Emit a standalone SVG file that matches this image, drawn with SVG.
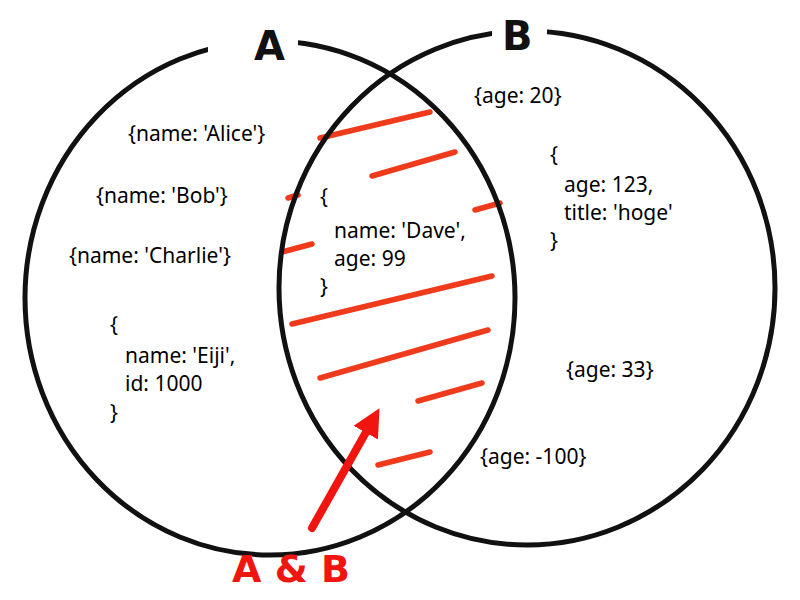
<svg xmlns="http://www.w3.org/2000/svg" width="800" height="600" viewBox="0 0 800 600">
<style>
.c{fill:none;stroke:#111;stroke-width:5}
.t{font-family:"Noto Sans",sans-serif;font-size:21px;fill:#000}
.h{stroke:#f03a1c;stroke-width:5.5;stroke-linecap:round;fill:none}
.lbl{font-family:"DejaVu Sans",sans-serif;font-weight:bold;font-size:40px;fill:#111}
</style>
<defs><marker id="ah" viewBox="0 0 10 10" refX="6" refY="5" markerWidth="3.5" markerHeight="3.5" orient="auto"><path d="M0,0L10,5L0,10z" fill="#f0160f"/></marker></defs>
<rect width="800" height="600" fill="#fff"/>
<g id="hatch">
<path class="h" d="M320,138L430,112M372,176L455,152M288,198L298,195M475,210L500,203M282,252L312,244M292,324L492,276M320,378L488,330M418,401L482,383M378,465L430,452"/>
</g>
<g id="circleA"><ellipse class="c" cx="270" cy="298" rx="245" ry="257"/></g>
<g id="circleB"><ellipse class="c" cx="527" cy="288" rx="248" ry="257"/></g>
<rect x="208" y="20" width="90" height="40" fill="#fff"/>
<rect x="492" y="10" width="55" height="40" fill="#fff"/>
<text class="lbl" x="254" y="60">A</text>
<text class="lbl" x="502" y="50">B</text>
<g id="textsA">
<text class="t" x="128" y="141">{name: 'Alice'}</text>
<text class="t" x="96" y="203">{name: 'Bob'}</text>
<text class="t" x="69" y="263">{name: 'Charlie'}</text>
<text class="t" x="110" y="332">{</text>
<text class="t" x="125" y="363">name: 'Eiji',</text>
<text class="t" x="125" y="391">id: 1000</text>
<text class="t" x="110" y="420">}</text>
</g>
<g id="textsAB">
<text class="t" x="320" y="204">{</text>
<text class="t" x="334" y="238">name: 'Dave',</text>
<text class="t" x="334" y="266">age: 99</text>
<text class="t" x="320" y="294">}</text>
</g>
<g id="textsB">
<text class="t" x="474" y="103">{age: 20}</text>
<text class="t" x="550" y="162">{</text>
<text class="t" x="564" y="192">age: 123,</text>
<text class="t" x="564" y="220">title: 'hoge'</text>
<text class="t" x="550" y="248">}</text>
<text class="t" x="566" y="377">{age: 33}</text>
<text class="t" x="480" y="464">{age: -100}</text>
</g>
<g id="connectors"><path d="M312,528L374,418" stroke="#f0160f" stroke-width="8" fill="none" stroke-linecap="round" marker-end="url(#ah)"/></g>
<text x="232" y="582" font-family="DejaVu Sans,sans-serif" font-weight="bold" font-size="38" fill="#f0160f">A &amp; B</text>
</svg>
